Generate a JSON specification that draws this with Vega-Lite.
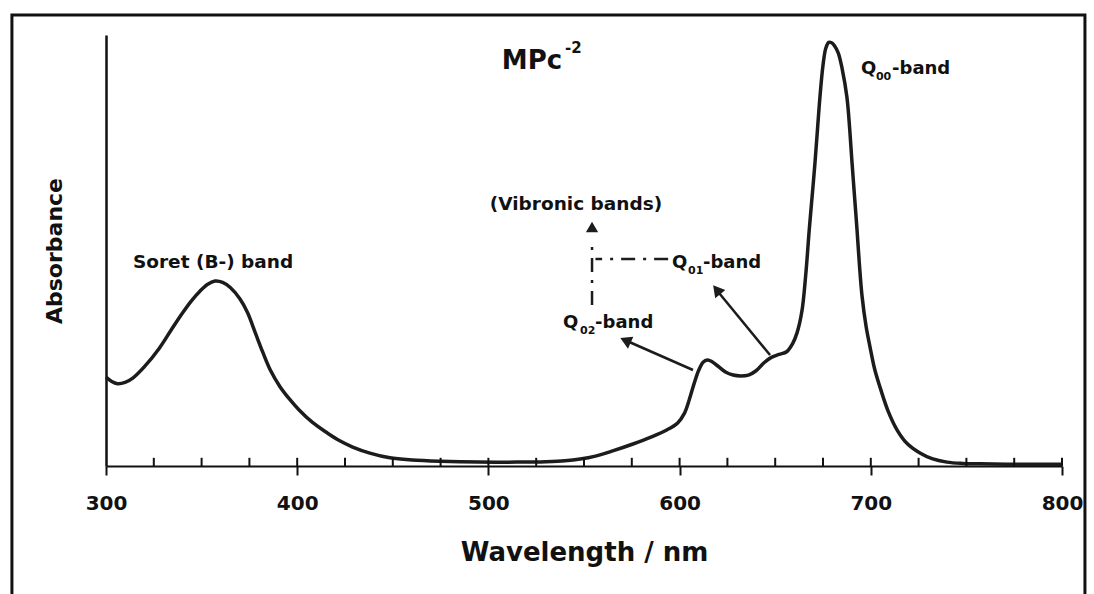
{
  "$schema": "https://vega.github.io/schema/vega-lite/v6.json",
  "width": 956,
  "height": 431,
  "autosize": "none",
  "padding": {"left": 106, "top": 35, "right": 32, "bottom": 128},
  "background": "white",
  "config": {"view": {"stroke": null}, "font": "DejaVu Sans"},
  "datasets": {
    "spectrum": [
      {"nm": 300, "a": 0.2065}, {"nm": 303, "a": 0.196}, {"nm": 306, "a": 0.191}, {"nm": 310, "a": 0.194},
      {"nm": 314, "a": 0.204}, {"nm": 320, "a": 0.23}, {"nm": 328, "a": 0.274}, {"nm": 334, "a": 0.315},
      {"nm": 340, "a": 0.355}, {"nm": 345, "a": 0.385}, {"nm": 349, "a": 0.405}, {"nm": 353, "a": 0.421},
      {"nm": 357, "a": 0.429}, {"nm": 361, "a": 0.426}, {"nm": 365, "a": 0.414}, {"nm": 370, "a": 0.388},
      {"nm": 374, "a": 0.356}, {"nm": 378, "a": 0.31}, {"nm": 382, "a": 0.264}, {"nm": 386, "a": 0.222},
      {"nm": 391, "a": 0.184}, {"nm": 396, "a": 0.155}, {"nm": 401, "a": 0.13}, {"nm": 408, "a": 0.101},
      {"nm": 415.6, "a": 0.077}, {"nm": 422, "a": 0.059}, {"nm": 429, "a": 0.044}, {"nm": 438, "a": 0.03},
      {"nm": 448.5, "a": 0.019}, {"nm": 460, "a": 0.014}, {"nm": 475, "a": 0.011}, {"nm": 495, "a": 0.009},
      {"nm": 515, "a": 0.009}, {"nm": 530, "a": 0.01}, {"nm": 540, "a": 0.012}, {"nm": 548, "a": 0.016},
      {"nm": 556, "a": 0.023}, {"nm": 565, "a": 0.035}, {"nm": 575.6, "a": 0.051}, {"nm": 585, "a": 0.067},
      {"nm": 593, "a": 0.083}, {"nm": 599, "a": 0.1}, {"nm": 602.5, "a": 0.122}, {"nm": 605, "a": 0.153},
      {"nm": 607.5, "a": 0.19}, {"nm": 610, "a": 0.222}, {"nm": 612.3, "a": 0.241}, {"nm": 614.5, "a": 0.246},
      {"nm": 617, "a": 0.242}, {"nm": 620, "a": 0.232}, {"nm": 624, "a": 0.218}, {"nm": 628, "a": 0.211},
      {"nm": 632, "a": 0.209}, {"nm": 636, "a": 0.211}, {"nm": 640, "a": 0.221}, {"nm": 644, "a": 0.239},
      {"nm": 648, "a": 0.252}, {"nm": 652, "a": 0.259}, {"nm": 656, "a": 0.265}, {"nm": 659, "a": 0.283},
      {"nm": 661.5, "a": 0.31}, {"nm": 664, "a": 0.36}, {"nm": 666, "a": 0.445}, {"nm": 667.8, "a": 0.548},
      {"nm": 669.3, "a": 0.625}, {"nm": 670.8, "a": 0.703}, {"nm": 672.1, "a": 0.78}, {"nm": 673.4, "a": 0.856},
      {"nm": 675, "a": 0.93}, {"nm": 676.5, "a": 0.97}, {"nm": 678, "a": 0.983}, {"nm": 679.5, "a": 0.982},
      {"nm": 681, "a": 0.975}, {"nm": 683, "a": 0.958}, {"nm": 685, "a": 0.922}, {"nm": 687.5, "a": 0.856},
      {"nm": 689, "a": 0.78}, {"nm": 690.2, "a": 0.703}, {"nm": 691.5, "a": 0.625}, {"nm": 692.8, "a": 0.548},
      {"nm": 694, "a": 0.47}, {"nm": 695.4, "a": 0.395}, {"nm": 697.5, "a": 0.325}, {"nm": 699.6, "a": 0.276},
      {"nm": 702, "a": 0.225}, {"nm": 704.8, "a": 0.183}, {"nm": 709, "a": 0.128}, {"nm": 713.7, "a": 0.084},
      {"nm": 719, "a": 0.052}, {"nm": 725.7, "a": 0.03}, {"nm": 732, "a": 0.017}, {"nm": 739.8, "a": 0.009},
      {"nm": 748, "a": 0.006}, {"nm": 757, "a": 0.005}, {"nm": 780, "a": 0.004}, {"nm": 800, "a": 0.004}
    ],
    "ticks": [
      {"tick": 325}, {"tick": 350}, {"tick": 375}, {"tick": 400}, {"tick": 425}, {"tick": 450},
      {"tick": 475}, {"tick": 500}, {"tick": 525}, {"tick": 550}, {"tick": 575}, {"tick": 600},
      {"tick": 625}, {"tick": 650}, {"tick": 675}, {"tick": 700}, {"tick": 725}, {"tick": 750},
      {"tick": 775}, {"tick": 800}
    ],
    "arrows": [
      {"x": 647.3, "y": 0.2575, "x2": 620.0, "y2": 0.405},
      {"x": 607.0, "y": 0.2227, "x2": 572.5, "y2": 0.290}
    ],
    "dashes": [
      {"x": 554.2, "y": 0.3735, "x2": 554.2, "y2": 0.5244},
      {"x": 594.0, "y": 0.48, "x2": 556.0, "y2": 0.48}
    ],
    "bigLabels": [
      {"label": "Soret (B-) band", "x": 356.0, "y": 0.459},
      {"label": "(Vibronic bands)", "x": 545.8, "y": 0.594}
    ],
    "qLetters": [
      {"label": "Q", "x": 596.0, "y": 0.459},
      {"label": "Q", "x": 539.0, "y": 0.32},
      {"label": "Q", "x": 694.9, "y": 0.9095}
    ],
    "qSubs": [
      {"label": "01", "x": 604.4, "y": 0.446},
      {"label": "02", "x": 547.9, "y": 0.307},
      {"label": "00", "x": 702.7, "y": 0.896}
    ],
    "qBand": [
      {"label": "-band", "x": 612.2, "y": 0.459},
      {"label": "-band", "x": 555.8, "y": 0.32},
      {"label": "-band", "x": 711.1, "y": 0.9095}
    ]
  },
  "layer": [
    {
      "data": {"values": [{}]},
      "mark": {"type": "rect", "filled": false, "stroke": "#111111", "strokeWidth": 3, "clip": false},
      "encoding": {
        "x": {"datum": 250.8, "type": "quantitative", "scale": {"domain": [300, 800], "nice": false, "zero": false}},
        "x2": {"datum": 812.0},
        "y": {"datum": 1.0464, "type": "quantitative", "scale": {"domain": [0, 1], "nice": false}},
        "y2": {"datum": -0.33}
      }
    },
    {
      "data": {"name": "spectrum"},
      "mark": {"type": "line", "color": "#1c1c1c", "strokeWidth": 3.5, "interpolate": "catmull-rom", "strokeJoin": "round"},
      "encoding": {
        "x": {
          "field": "nm", "type": "quantitative",
          "scale": {"domain": [300, 800], "nice": false, "zero": false},
          "axis": {
            "title": "Wavelength / nm",
            "values": [300, 400, 500, 600, 700, 800],
            "format": "d",
            "grid": false,
            "labelFlush": false,
            "domainColor": "#111111", "domainWidth": 2,
            "tickColor": "#111111", "tickWidth": 2, "tickSize": 9,
            "labelFont": "DejaVu Sans", "labelFontWeight": "bold", "labelFontSize": 20, "labelColor": "#111111",
            "labelPadding": 18,
            "titleFont": "DejaVu Sans", "titleFontWeight": "bold", "titleFontSize": 26, "titleColor": "#111111",
            "titlePadding": 26
          }
        },
        "y": {
          "field": "a", "type": "quantitative",
          "scale": {"domain": [0, 1], "nice": false},
          "axis": {
            "title": "Absorbance",
            "ticks": false, "labels": false, "grid": false,
            "domainColor": "#111111", "domainWidth": 2.5,
            "titleFont": "DejaVu Sans", "titleFontWeight": "bold", "titleFontSize": 22, "titleColor": "#111111",
            "titlePadding": 40
          }
        }
      }
    },
    {
      "data": {"name": "ticks"},
      "mark": {"type": "rule", "color": "#111111", "strokeWidth": 2},
      "encoding": {
        "x": {"field": "tick", "type": "quantitative"},
        "y": {"datum": 0, "type": "quantitative"},
        "y2": {"datum": 0.019}
      }
    },
    {
      "data": {"name": "arrows"},
      "mark": {"type": "rule", "color": "#1c1c1c", "strokeWidth": 2.5},
      "encoding": {
        "x": {"field": "x", "type": "quantitative"},
        "y": {"field": "y", "type": "quantitative"},
        "x2": {"field": "x2"},
        "y2": {"field": "y2"}
      }
    },
    {
      "data": {"name": "dashes"},
      "mark": {"type": "rule", "color": "#1c1c1c", "strokeWidth": 2.5, "strokeDash": [14, 8, 3, 8]},
      "encoding": {
        "x": {"field": "x", "type": "quantitative"},
        "y": {"field": "y", "type": "quantitative"},
        "x2": {"field": "x2"},
        "y2": {"field": "y2"}
      }
    },
    {
      "data": {"values": [{"x": 619.4, "y": 0.409}]},
      "mark": {"type": "point", "shape": "triangle-up", "filled": true, "color": "#1c1c1c", "size": 170, "angle": 321, "opacity": 1},
      "encoding": {"x": {"field": "x", "type": "quantitative"}, "y": {"field": "y", "type": "quantitative"}}
    },
    {
      "data": {"values": [{"x": 571.7, "y": 0.2914}]},
      "mark": {"type": "point", "shape": "triangle-up", "filled": true, "color": "#1c1c1c", "size": 170, "angle": 294, "opacity": 1},
      "encoding": {"x": {"field": "x", "type": "quantitative"}, "y": {"field": "y", "type": "quantitative"}}
    },
    {
      "data": {"values": [{"x": 554.2, "y": 0.5545}]},
      "mark": {"type": "point", "shape": "triangle-up", "filled": true, "color": "#1c1c1c", "size": 150, "angle": 0, "opacity": 1},
      "encoding": {"x": {"field": "x", "type": "quantitative"}, "y": {"field": "y", "type": "quantitative"}}
    },
    {
      "data": {"values": [{"label": "MPc", "x": 522.8, "y": 0.9211}]},
      "mark": {"type": "text", "font": "DejaVu Sans", "fontWeight": "bold", "fontSize": 26, "align": "center", "baseline": "alphabetic", "color": "#111111"},
      "encoding": {"x": {"field": "x", "type": "quantitative"}, "y": {"field": "y", "type": "quantitative"}, "text": {"field": "label"}}
    },
    {
      "data": {"values": [{"label": "-2", "x": 540.1, "y": 0.958}]},
      "mark": {"type": "text", "font": "DejaVu Sans", "fontWeight": "bold", "fontSize": 15, "align": "left", "baseline": "alphabetic", "color": "#111111"},
      "encoding": {"x": {"field": "x", "type": "quantitative"}, "y": {"field": "y", "type": "quantitative"}, "text": {"field": "label"}}
    },
    {
      "data": {"name": "bigLabels"},
      "mark": {"type": "text", "font": "DejaVu Sans", "fontWeight": "bold", "fontSize": 18.5, "align": "center", "baseline": "alphabetic", "color": "#111111"},
      "encoding": {"x": {"field": "x", "type": "quantitative"}, "y": {"field": "y", "type": "quantitative"}, "text": {"field": "label"}}
    },
    {
      "data": {"name": "qLetters"},
      "mark": {"type": "text", "font": "DejaVu Sans", "fontWeight": "bold", "fontSize": 18, "align": "left", "baseline": "alphabetic", "color": "#111111"},
      "encoding": {"x": {"field": "x", "type": "quantitative"}, "y": {"field": "y", "type": "quantitative"}, "text": {"field": "label"}}
    },
    {
      "data": {"name": "qSubs"},
      "mark": {"type": "text", "font": "DejaVu Sans", "fontWeight": "bold", "fontSize": 11, "align": "left", "baseline": "alphabetic", "color": "#111111"},
      "encoding": {"x": {"field": "x", "type": "quantitative"}, "y": {"field": "y", "type": "quantitative"}, "text": {"field": "label"}}
    },
    {
      "data": {"name": "qBand"},
      "mark": {"type": "text", "font": "DejaVu Sans", "fontWeight": "bold", "fontSize": 18, "align": "left", "baseline": "alphabetic", "color": "#111111"},
      "encoding": {"x": {"field": "x", "type": "quantitative"}, "y": {"field": "y", "type": "quantitative"}, "text": {"field": "label"}}
    }
  ]
}
